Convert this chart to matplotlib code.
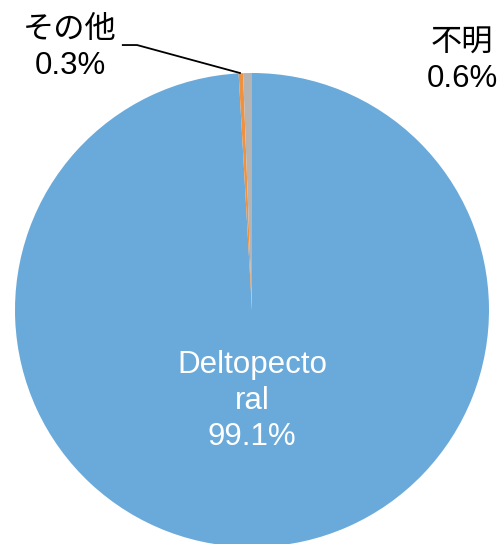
import numpy as np
import matplotlib
matplotlib.use('Agg')
import matplotlib.pyplot as plt

plt.rcParams['font.family'] = ['Liberation Sans', 'Noto Sans CJK JP', 'DejaVu Sans']

labels = ['Deltopecto\nral', 'その他', '不明']
values = [99.1, 0.3, 0.6]
colors = ['#6AAADB', '#F0913F', '#B4B4B4']
text_colors = ['white', 'black', 'black']

fig = plt.figure(figsize=(5.03, 5.44), dpi=100)
# pie box: x 15..489 px, y 73..547 px (from top)
ax = fig.add_axes([15 / 503, -3 / 544, 474 / 503, 474 / 544])
wedges, _ = ax.pie(values, colors=colors, startangle=90, counterclock=False,
                   radius=1, wedgeprops=dict(linewidth=0))
ax.set_xlim(-1, 1)
ax.set_ylim(-1, 1)
ax.set_aspect('equal')
ax.axis('off')

# label positions (data units, pie radius = 1)
label_pos = [(0.0, -0.385), (-0.768, 1.105), (0.886, 1.05)]
for i, (lab, val) in enumerate(zip(labels, values)):
    x, y = label_pos[i]
    ax.text(x, y, '%s\n%.1f%%' % (lab, val), ha='center', va='center',
            fontsize=22.5, color=text_colors[i], linespacing=1.25, clip_on=False)

# leader line for その他
w = wedges[1]
ang = np.deg2rad((w.theta1 + w.theta2) / 2)
ex, ey = np.cos(ang), np.sin(ang)
ax.plot([-0.549, -0.485, ex], [1.118, 1.118, ey], color='black', lw=1.3,
        clip_on=False, solid_capstyle='butt')

fig.savefig('out.png', dpi=100)
